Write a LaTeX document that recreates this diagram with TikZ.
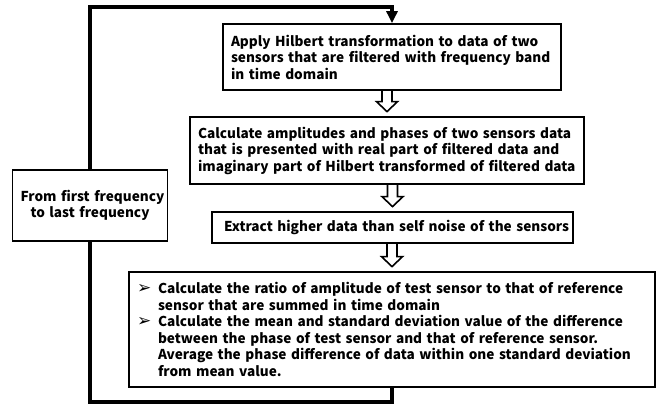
\documentclass[tikz,border=0pt]{standalone}
\usepackage{fontspec}
\setmainfont{Noto Sans CJK KR}
\newfontfamily\symfont{DejaVu Sans}
\usetikzlibrary{calc,arrows.meta}
\newcommand\harrowdraw[2]{%
  \draw[hollow] let \p1=(#1.south), \p2=(#2.north) in
    (\x2-5pt,\y1) -- (\x2-5pt,\y2+14.5pt) -- (\x2-10.5pt,\y2+14.5pt) -- (\x2,\y2+4.5pt)
    -- (\x2+10.5pt,\y2+14.5pt) -- (\x2+5pt,\y2+14.5pt) -- (\x2+5pt,\y1);}
\newcommand\bul{\makebox[21pt][l]{\symfont\fontsize{17}{16.5}\selectfont ➢}}
\newcommand\oneline[1]{\mbox{#1}}
\begin{document}
\begin{tikzpicture}[x=1pt,y=-1pt,
  box/.style={draw, line width=1.8pt, inner xsep=8pt, inner ysep=0pt, align=left,
    font=\bfseries\fontsize{13.6}{16.5}\selectfont, anchor=center},
  loopline/.style={line width=4pt, line join=miter},
  hollow/.style={draw, line width=1.6pt, line join=miter}]
\useasboundingbox (0,0) rectangle (660,405);
\fill[white] (0,0) rectangle (660,405);
\node[box, text width=322pt, minimum height=66pt] (b1) at (392,57)
  {\oneline{Apply Hilbert transformation to data of two}\\\oneline{sensors that are filtered with frequency band}\\\oneline{in time domain}};
\node[box, text width=378pt, minimum height=67pt] (b2) at (387,150.5)
  {\oneline{Calculate amplitudes and phases of two sensors data}\\\oneline{that is presented with real part of filtered data and}\\\oneline{imaginary part of Hilbert transformed of filtered data}};
\node[box, inner xsep=12pt, text width=337pt, minimum height=31pt] (b3) at (392.5,227.5)
  {\oneline{Extract higher data than self noise of the sensors}};
\node[box, text width=510pt, minimum height=115pt] (b4) at (392,329.5)
  {\oneline{\bul Calculate the ratio of amplitude of test sensor to that of reference}\\
   \oneline{\hspace*{21pt}sensor that are summed in time domain}\\
   \oneline{\bul Calculate the mean and standard deviation value of the difference}\\
   \oneline{\hspace*{21pt}between the phase of test sensor and that of reference sensor.}\\
   \oneline{\hspace*{21pt}Average the phase difference of data within one standard deviation}\\
   \oneline{\hspace*{21pt}from mean value.}};
\node[box, align=center, text width=139pt, minimum height=71pt] (loop) at (90,205.5)
  {\oneline{From first frequency}\\\oneline{to last frequency}};
\coordinate (top) at (392,7);
\coordinate (bot) at (392,402);
\draw[loopline, -{Triangle[length=12pt,width=11pt]}] (loop.north) |- (top) -- (b1.north);
\draw[loopline] (loop.south) |- (bot) -- (b4.south);
\harrowdraw{b1}{b2}
\harrowdraw{b2}{b3}
\harrowdraw{b3}{b4}
\end{tikzpicture}
\end{document}
